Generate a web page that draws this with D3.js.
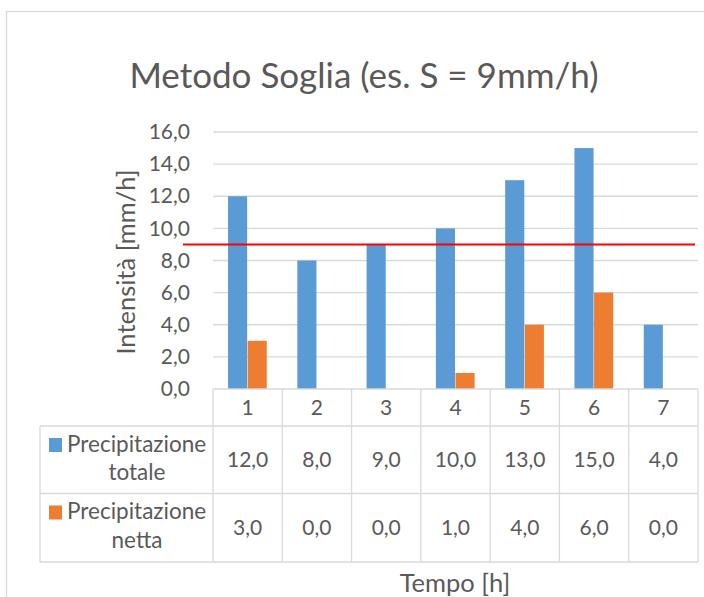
<!DOCTYPE html>
<html><head><meta charset="utf-8">
<script src="https://cdn.jsdelivr.net/npm/d3@7"></script>
<style>
html,body{margin:0;padding:0;background:#fff;}
svg{display:block;font-family:Lato,"Open Sans",sans-serif;}
</style></head>
<body>
<svg id="c" width="704" height="597"></svg>
<script>
const categories = ["1","2","3","4","5","6","7"];
const seriesNames = [["Precipitazione","totale"],["Precipitazione","netta"]];
const totale = [12,8,9,10,13,15,4];
const netta = [3,0,0,1,4,6,0];
const yTicks = [0,2,4,6,8,10,12,14,16];
const threshold = 9;
const colors = ["#5b9bd5","#ed7d31"];
const titleText = "Metodo Soglia (es. S = 9mm/h)";
const yTitle = "Intensità [mm/h]";
const xTitle = "Tempo [h]";

(function(){
const svg = d3.select("#c");
const textColor = "#595959", lineColor = "#d9d9d9";
const fmt = v => v.toFixed(1).replace(".", ",");

// outer border
svg.append("rect").attr("x",6.5).attr("y",11.5).attr("width",720).attr("height",620)
  .attr("fill","none").attr("stroke",lineColor).attr("stroke-width",1.3);

const pLeft = 213, pRight = 698, pTop = 132, pBottom = 389;
const x = d3.scaleBand().domain(categories).range([pLeft,pRight]).padding(0);
const bw = x.bandwidth();
const x1 = d3.scaleBand().domain([0,1]).range([bw*0.217, bw*(1-0.217)]).padding(0);
const y = d3.scaleLinear().domain([0,16]).range([pBottom, pTop]);

// title
svg.append("text").attr("x",364).attr("y",88).attr("text-anchor","middle")
  .attr("font-size",35).attr("fill",textColor).text(titleText);

// gridlines
svg.append("g").selectAll("line").data(yTicks.slice(1)).join("line")
  .attr("x1",pLeft).attr("x2",pRight).attr("y1",d=>y(d)).attr("y2",d=>y(d))
  .attr("stroke",lineColor).attr("stroke-width",1.3);

// y axis labels
const yAxis = d3.axisLeft(y).tickValues(yTicks).tickFormat(fmt).tickSize(0).tickPadding(0);
const yg = svg.append("g").attr("transform",`translate(${190},0)`).call(yAxis);
yg.select(".domain").remove();
yg.selectAll("text").attr("font-size",21).attr("fill",textColor).attr("font-family","Lato,sans-serif");

// y title
svg.append("text").attr("transform",`translate(135,262) rotate(-90)`).attr("text-anchor","middle")
  .attr("font-size",25.5).attr("fill",textColor).text(yTitle);

// bars
const data = [totale, netta];
data.forEach((vals, si) => {
  svg.append("g").selectAll("rect").data(vals.map((v,i)=>({c:categories[i],v}))).join("rect")
    .attr("x",d=>x(d.c)+x1(si)).attr("width",x1.bandwidth()-0.5)
    .attr("y",d=>y(d.v)).attr("height",d=>pBottom-y(d.v))
    .attr("fill",colors[si]);
});

// threshold line
svg.append("line").attr("x1",pLeft-30).attr("x2",pRight-3)
  .attr("y1",y(threshold)).attr("y2",y(threshold))
  .attr("stroke","#ff0000").attr("stroke-width",2);

// data table
const tblLeft = 40, r0 = pBottom, r1 = 426, r2 = 493.5, r3 = 562;
const tg = svg.append("g").attr("stroke",lineColor).attr("stroke-width",1.3).attr("fill","none");
tg.append("line").attr("x1",pLeft).attr("x2",pRight).attr("y1",r0).attr("y2",r0);
[r1,r2,r3].forEach(r=>tg.append("line").attr("x1",tblLeft).attr("x2",pRight).attr("y1",r).attr("y2",r));
tg.append("line").attr("x1",tblLeft).attr("x2",tblLeft).attr("y1",r1).attr("y2",r3);
categories.forEach(c=>tg.append("line").attr("x1",x(c)).attr("x2",x(c)).attr("y1",r0).attr("y2",r3));
tg.append("line").attr("x1",pRight).attr("x2",pRight).attr("y1",r0).attr("y2",r3);

// header labels
svg.append("g").selectAll("text").data(categories).join("text")
  .attr("x",d=>x(d)+bw/2).attr("y",(r0+r1)/2+7.5).attr("text-anchor","middle")
  .attr("font-size",21).attr("fill",textColor).text(d=>d);

// rows
const rows = [[r1,r2],[r2,r3]];
data.forEach((vals, si) => {
  const [ra, rb] = rows[si];
  const mid = (ra+rb)/2;
  svg.append("g").selectAll("text").data(vals).join("text")
    .attr("x",(d,i)=>x(categories[i])+bw/2).attr("y",mid+7.5).attr("text-anchor","middle")
    .attr("font-size",21).attr("fill",textColor).text(d=>fmt(d));
  svg.append("rect").attr("x",49).attr("y",ra+12).attr("width",13).attr("height",14).attr("fill",colors[si]);
  svg.append("text").attr("x",67).attr("y",ra+25.5).attr("font-size",22.5).attr("fill",textColor).text(seriesNames[si][0]);
  svg.append("text").attr("x",137).attr("y",ra+54).attr("text-anchor","middle").attr("font-size",22.5).attr("fill",textColor).text(seriesNames[si][1]);
});

// x title
svg.append("text").attr("x",455).attr("y",592).attr("text-anchor","middle")
  .attr("font-size",25.5).attr("fill",textColor).text(xTitle);
})();
</script>
</body></html>
